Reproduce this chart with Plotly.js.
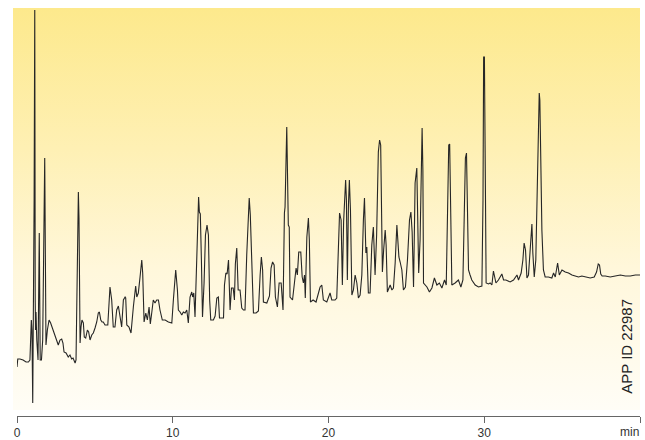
<!DOCTYPE html>
<html>
<head>
<meta charset="utf-8">
<script src="https://cdn.plot.ly/plotly-3.0.1.min.js"></script>
<style>
  html, body { margin: 0; padding: 0; background: #ffffff; }
  #wrap { position: relative; width: 645px; height: 440px; }
  #bg { position: absolute; left: 13px; top: 8px; width: 627px; height: 402px;
        background: linear-gradient(to bottom, #fde98c 0%, #fef0b4 35%, #fff7db 65%, #fffdf6 100%); }
  #chart { position: absolute; left: 0; top: 0; width: 645px; height: 440px; }
</style>
</head>
<body>
<div id="wrap"><div id="bg"></div><div id="chart"></div></div>
<script>
// Retention time (min)
const timeMin = [
  0.00,0.05,0.19,0.39,0.58,0.73,0.83,0.88,0.92,0.96,1.01,1.10,1.14,1.17,1.19,1.22,1.27,1.30,1.35,1.43,
  1.49,1.57,1.65,1.78,1.82,1.86,1.95,2.06,2.16,2.27,2.38,2.49,2.57,2.65,2.76,2.87,2.95,3.02,3.15,3.29,
  3.40,3.51,3.60,3.73,3.79,3.85,3.90,3.94,3.98,4.01,4.05,4.11,4.17,4.26,4.32,4.41,4.52,4.60,4.69,4.80,
  4.90,5.01,5.12,5.22,5.29,5.38,5.46,5.54,5.65,5.83,5.91,5.97,6.08,6.18,6.29,6.40,6.51,6.62,6.72,6.83,
  6.94,6.98,7.05,7.19,7.32,7.47,7.62,7.69,7.79,7.90,8.01,8.07,8.16,8.27,8.37,8.48,8.56,8.65,8.75,8.86,
  8.97,9.08,9.18,9.33,9.51,9.72,9.94,10.04,10.19,10.30,10.36,10.47,10.58,10.68,10.79,10.90,11.00,11.11,11.22,11.28,
  11.35,11.43,11.54,11.66,11.71,11.77,11.84,11.91,12.01,12.10,12.20,12.29,12.37,12.44,12.61,12.72,12.83,12.93,13.00,13.15,
  13.26,13.32,13.41,13.49,13.58,13.64,13.68,13.77,13.88,13.96,14.02,14.11,14.20,14.32,14.43,14.54,14.64,14.75,14.84,14.91,
  14.98,15.07,15.18,15.35,15.50,15.61,15.69,15.77,15.82,16.04,16.21,16.31,16.41,16.51,16.59,16.72,16.83,16.96,17.08,17.17,
  17.21,17.32,17.37,17.42,17.48,17.53,17.69,17.84,17.92,18.00,18.09,18.22,18.31,18.39,18.46,18.51,18.61,18.71,18.77,18.84,
  19.01,19.20,19.33,19.46,19.57,19.67,19.89,20.10,20.21,20.42,20.53,20.62,20.71,20.81,20.89,20.97,21.03,21.10,21.15,21.21,
  21.28,21.34,21.41,21.50,21.60,21.71,21.82,21.92,22.03,22.14,22.24,22.31,22.40,22.46,22.56,22.67,22.78,22.88,22.99,23.09,
  23.20,23.28,23.35,23.41,23.46,23.54,23.64,23.70,23.78,23.96,24.07,24.17,24.28,24.39,24.45,24.52,24.60,24.71,24.81,24.94,
  25.07,25.20,25.29,25.37,25.46,25.56,25.67,25.72,25.79,25.88,25.95,26.01,26.06,26.10,26.32,26.48,26.64,26.80,26.96,27.12,
  27.28,27.45,27.56,27.65,27.72,27.78,27.84,27.92,28.13,28.34,28.50,28.63,28.71,28.79,28.86,28.92,28.99,29.09,29.20,29.42,
  29.63,29.85,29.92,29.96,30.01,30.08,30.12,30.27,30.38,30.49,30.59,30.75,30.91,31.13,31.24,31.39,31.66,31.88,32.10,32.20,
  32.37,32.48,32.56,32.65,32.74,32.84,32.95,33.06,33.12,33.21,33.31,33.42,33.48,33.53,33.57,33.62,33.70,33.80,33.91,34.12,
  34.34,34.45,34.56,34.71,34.82,34.99,35.20,35.41,35.63,35.84,36.05,36.27,36.48,36.80,37.06,37.21,37.32,37.40,37.48,37.57,
  37.77,38.09,38.41,38.74,39.06,39.38,39.70,40.00
];
// Detector signal (arbitrary units)
const signal = [
  49,57,57,56,54,54,56,71,96,86,13,216,406,116,86,104,76,58,56,183,
  56,56,76,258,166,71,86,96,93,88,83,79,74,71,76,77,73,64,63,59,
  61,57,58,53,56,126,198,224,198,116,73,89,96,93,79,78,86,84,76,81,
  83,88,94,103,104,96,94,94,91,91,116,129,116,89,89,106,110,99,89,116,
  119,118,91,89,83,109,130,119,123,139,156,143,94,103,96,109,92,103,116,113,
  116,116,106,96,96,94,93,116,146,126,106,104,101,104,103,106,93,119,124,119,
  123,99,156,219,204,202,156,99,133,181,191,181,116,96,96,100,118,119,98,98,
  98,131,143,142,156,126,106,128,128,116,152,168,126,126,108,106,106,161,201,218,
  201,156,103,103,105,141,159,146,114,113,120,148,154,151,119,109,133,133,106,203,
  209,289,216,191,189,119,116,134,148,141,164,164,139,133,141,118,179,198,176,114,
  116,114,121,129,131,116,114,123,116,116,118,161,203,196,131,194,211,236,216,136,
  211,236,206,121,126,141,133,118,121,141,196,218,163,169,123,123,171,189,141,181,
  264,276,271,216,144,166,186,171,124,131,126,128,153,191,174,159,154,146,126,129,
  156,196,204,184,129,233,248,216,143,176,256,288,246,133,129,124,128,138,131,133,
  128,136,131,216,271,272,216,131,133,136,129,136,196,258,263,216,146,141,136,131,
  129,130,216,359,359,216,133,132,133,131,145,133,136,142,136,136,134,136,141,136,
  143,156,173,166,138,141,173,192,163,139,156,236,306,323,316,251,186,146,139,139,
  138,143,139,153,141,146,144,143,141,140,139,140,139,138,139,144,152,151,142,140,
  140,139,140,141,140,140,141,141
];
// Axis ticks
const tickValues = [0, 10, 20, 30, 40];
const tickLabels = ['0', '10', '20', '30', ''];
const axisUnit = 'min';
const appId = 'APP ID 22987';

const font = 'Liberation Sans, Arial, Helvetica, sans-serif';

const trace = {
  x: timeMin, y: signal, type: 'scatter', mode: 'lines',
  line: { color: '#262626', width: 1.1 }, hoverinfo: 'skip', showlegend: false
};

const layout = {
  width: 645, height: 440,
  margin: { l: 17, r: 5, t: 8, b: 24 },
  paper_bgcolor: 'rgba(0,0,0,0)', plot_bgcolor: 'rgba(0,0,0,0)',
  xaxis: {
    range: [0, 40], showgrid: false, zeroline: false,
    showline: true, linecolor: '#666', linewidth: 1,
    ticks: 'outside', ticklen: 6, tickwidth: 1, tickcolor: '#666',
    tickvals: tickValues, ticktext: tickLabels,
    tickfont: { family: font, size: 12, color: '#333' }, fixedrange: true
  },
  yaxis: {
    range: [0, 408], visible: false, showgrid: false, zeroline: false, fixedrange: true
  },
  annotations: [
    { text: axisUnit, xref: 'paper', yref: 'paper', x: 1.0, y: 0, xanchor: 'right', yanchor: 'middle',
      yshift: -16, xshift: 0, showarrow: false, borderpad: 0, font: { family: font, size: 12, color: '#333' } },
    { text: appId, xref: 'paper', yref: 'paper', x: 0.979, y: 0.172, xanchor: 'center', yanchor: 'middle',
      textangle: -90, showarrow: false, font: { family: font, size: 15, color: '#222' } }
  ]
};

Plotly.newPlot('chart', [trace], layout, { staticPlot: true, displayModeBar: false });
</script>
</body>
</html>
